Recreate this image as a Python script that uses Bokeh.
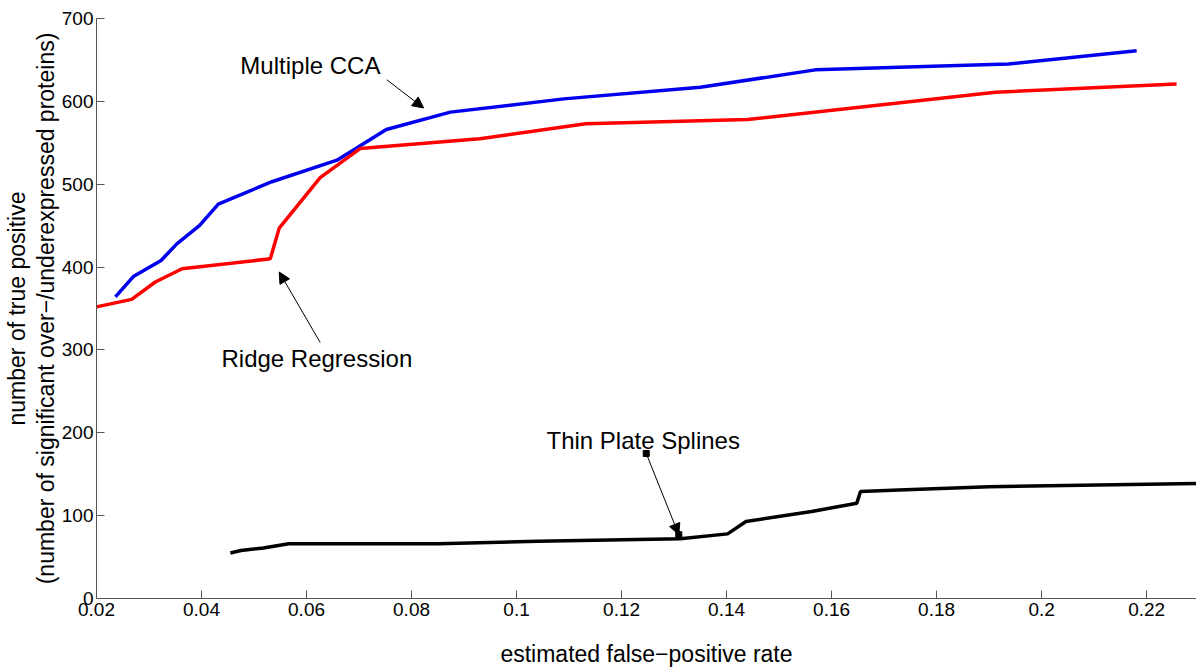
from bokeh.plotting import figure
from bokeh.models import Label, Arrow, NormalHead, LinearAxis, FixedTicker, Range1d
from bokeh.embed import file_html
from bokeh.resources import INLINE

# ---- data ----
cca_x = [0.0236, 0.0271, 0.0323, 0.0353, 0.0396, 0.0432, 0.0534, 0.0658, 0.0752, 0.0874, 0.1090, 0.1350, 0.1569, 0.1937, 0.2181]
cca_y = [364, 389, 408, 428, 450, 476, 503, 529, 566, 587, 603, 617, 638, 645, 661]

ridge_x = [0.0200, 0.0267, 0.0312, 0.0363, 0.0531, 0.0548, 0.0626, 0.0702, 0.0930, 0.1132, 0.1440, 0.1912, 0.2257]
ridge_y = [352, 361, 382, 398, 410, 447, 508, 543, 555, 573, 578, 611, 621]

tps_x = [0.0455, 0.0475, 0.0518, 0.0566, 0.0851, 0.1040, 0.1312, 0.1402, 0.1437, 0.1562, 0.1648, 0.1655, 0.1728, 0.1900, 0.2300]
tps_y = [55, 58, 61, 66, 66, 69, 72, 78, 93, 105, 115, 129, 131, 135, 139]

x_ticks = [0.02, 0.04, 0.06, 0.08, 0.1, 0.12, 0.14, 0.16, 0.18, 0.2, 0.22]
x_tick_labels = ["0.02", "0.04", "0.06", "0.08", "0.1", "0.12", "0.14", "0.16", "0.18", "0.2", "0.22"]
y_ticks = [0, 100, 200, 300, 400, 500, 600, 700]

# annotation texts / anchor points (data coords)
ann_texts = ["Multiple CCA", "Ridge Regression", "Thin Plate Splines"]
ann_text_x = [0.0474, 0.0438, 0.1057]
ann_text_y = [643, 290, 191]
ann_tail_x = [0.0753, 0.0626, 0.1247]
ann_tail_y = [626, 309, 175]
ann_head_x = [0.0823, 0.0548, 0.1309]
ann_head_y = [592, 394, 77]

FONT = "Liberation Sans"

p = figure(frame_width=1100, frame_height=580,
           x_range=Range1d(0.02, 0.2295), y_range=Range1d(0, 700),
           output_backend="svg", toolbar_location=None,
           min_border_left=10, min_border_right=0, min_border_top=18, min_border_bottom=74)
p.outline_line_color = None
p.grid.visible = False

p.line(cca_x, cca_y, line_color="#0000ee", line_width=3.5)
p.line(ridge_x, ridge_y, line_color="#ff0000", line_width=3.5)
p.line(tps_x, tps_y, line_color="black", line_width=3.5)

# axes styling
for ax in (p.xaxis[0], p.yaxis[0]):
    ax.major_tick_in = 8
    ax.major_tick_out = 0
    ax.minor_tick_line_color = None
    ax.axis_line_color = "#555555"
    ax.major_tick_line_color = "#555555"
    ax.major_label_text_font = FONT
    ax.major_label_text_font_size = "19px"
    ax.major_label_text_color = "black"
    ax.axis_label_text_font = FONT
    ax.axis_label_text_font_size = "23px"
    ax.axis_label_text_font_style = "normal"
    ax.axis_label_text_color = "black"

p.xaxis[0].ticker = FixedTicker(ticks=x_ticks)
p.xaxis[0].major_label_overrides = {t: l for t, l in zip(x_ticks, x_tick_labels)}
p.xaxis[0].major_label_standoff = 4
p.xaxis[0].axis_label = "estimated false\u2212positive rate"
p.xaxis[0].axis_label_standoff = 22

p.yaxis[0].ticker = FixedTicker(ticks=y_ticks)
p.yaxis[0].major_label_standoff = 3
p.yaxis[0].axis_label = "(number of significant over\u2212/underexpressed proteins)"
p.yaxis[0].axis_label_standoff = 0

outer = LinearAxis(ticker=FixedTicker(ticks=[]), axis_line_color=None,
                   major_tick_line_color=None, minor_tick_line_color=None,
                   major_tick_in=0, major_tick_out=0, major_label_standoff=0,
                   axis_label="number of true positive",
                   axis_label_text_font=FONT, axis_label_text_font_size="23px",
                   axis_label_text_font_style="normal", axis_label_text_color="black",
                   axis_label_standoff=0)
p.add_layout(outer, "left")

# annotations
for i in range(3):
    p.add_layout(Label(x=ann_text_x[i], y=ann_text_y[i], text=ann_texts[i],
                       text_font=FONT, text_font_size="24px", text_color="black",
                       text_baseline="middle", text_align="left"))
    p.add_layout(Arrow(x_start=ann_tail_x[i], y_start=ann_tail_y[i],
                       x_end=ann_head_x[i], y_end=ann_head_y[i],
                       line_width=1, line_color="black",
                       end=NormalHead(size=11, line_color="black", fill_color="black", line_width=1)))

# square markers on the Thin Plate Splines arrow
p.scatter([ann_tail_x[2], ann_head_x[2]], [ann_tail_y[2], ann_head_y[2]],
          marker="square", size=6, color="black")

open("out.html", "w").write(file_html(p, INLINE))
